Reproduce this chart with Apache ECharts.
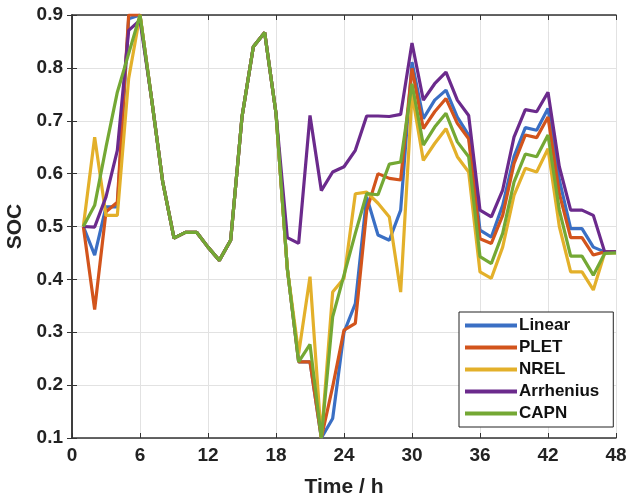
<!DOCTYPE html>
<html>
<head>
<meta charset="utf-8">
<script src="https://cdn.jsdelivr.net/npm/echarts@6/dist/echarts.min.js"></script>
<style>
  html, body { margin: 0; padding: 0; background: #fff; }
  #chart { width: 628px; height: 501px; }
</style>
</head>
<body>
<div id="chart"></div>
<script>
// hours 1..48
const hours = Array.from({ length: 48 }, (_, i) => i + 1)
const seriesNames = ['Linear', 'PLET', 'NREL', 'Arrhenius', 'CAPN']
const colors = ['#3a6fc4', '#d2541c', '#e3b02a', '#6b2a8c', '#74a834']

// shared part h7..h18
const common = [0.745, 0.585, 0.478, 0.489, 0.489, 0.461, 0.436, 0.474, 0.707, 0.84, 0.867, 0.714]

const linear = [0.5, 0.446, 0.537, 0.537, 0.893, 0.9, ...common,
  0.42, 0.244, 0.244, 0.1, 0.137, 0.30, 0.354, 0.556, 0.484, 0.474, 0.531, 0.811,
  0.704, 0.739, 0.758, 0.707, 0.673, 0.493, 0.48, 0.54, 0.632, 0.687, 0.682, 0.723,
  0.588, 0.496, 0.496, 0.461, 0.452, 0.452]
const plet = [0.5, 0.343, 0.528, 0.546, 0.9, 0.9, ...common,
  0.42, 0.244, 0.244, 0.1, 0.197, 0.304, 0.317, 0.53, 0.6, 0.591, 0.588, 0.799,
  0.685, 0.717, 0.742, 0.695, 0.666, 0.477, 0.468, 0.521, 0.619, 0.673, 0.668, 0.707,
  0.562, 0.479, 0.479, 0.446, 0.452, 0.452]
const nrel = [0.5, 0.669, 0.521, 0.521, 0.78, 0.9, ...common,
  0.42, 0.26, 0.405, 0.1, 0.376, 0.402, 0.562, 0.565, 0.544, 0.518, 0.376, 0.751,
  0.625, 0.657, 0.685, 0.632, 0.603, 0.414, 0.402, 0.461, 0.559, 0.61, 0.603, 0.647,
  0.5, 0.414, 0.414, 0.38, 0.45, 0.45]
const arrhenius = [0.5, 0.499, 0.556, 0.644, 0.871, 0.89, ...common,
  0.479, 0.468, 0.71, 0.568, 0.603, 0.613, 0.644, 0.709, 0.709, 0.708, 0.712, 0.847,
  0.739, 0.77, 0.792, 0.739, 0.71, 0.531, 0.518, 0.569, 0.669, 0.721, 0.717, 0.754,
  0.613, 0.531, 0.531, 0.521, 0.452, 0.452]
const capn = [0.5, 0.54, 0.65, 0.754, 0.827, 0.9, ...common,
  0.42, 0.244, 0.277, 0.1, 0.329, 0.408, 0.487, 0.562, 0.56, 0.618, 0.622, 0.77,
  0.654, 0.688, 0.714, 0.66, 0.632, 0.443, 0.43, 0.487, 0.584, 0.637, 0.632, 0.673,
  0.531, 0.444, 0.444, 0.408, 0.449, 0.45]

const allValues = [linear, plet, nrel, arrhenius, capn]

const fontFamily = 'Arial, "Liberation Sans", sans-serif'
const axisColor = '#333'

const chart = echarts.init(document.getElementById('chart'))

const option = {
  animation: false,
  grid: { left: 72, right: 12, top: 15, bottom: 63, containLabel: false, outerBoundsMode: 'none' },
  legend: {
    orient: 'vertical',
    left: 459,
    top: 312,
    icon: 'rect',
    itemWidth: 52,
    itemHeight: 4,
    itemGap: 5,
    padding: [5, 14, 5, 6],
    borderColor: '#222',
    borderWidth: 1,
    backgroundColor: '#fff',
    textStyle: {
      fontFamily, fontWeight: 'bold', fontSize: 17, lineHeight: 17, color: '#111',
      padding: [0, 0, 0, -3]
    },
    data: seriesNames
  },
  xAxis: [
    {
      type: 'value',
      min: 0,
      max: 48,
      interval: 6,
      name: 'Time / h',
      nameLocation: 'middle',
      nameGap: 39,
      nameTextStyle: { fontFamily, fontWeight: 'bold', fontSize: 21, color: '#222' },
      axisLine: { show: true, onZero: false, lineStyle: { color: axisColor, width: 1.5 } },
      axisTick: { show: true, inside: true, length: 5, lineStyle: { color: axisColor } },
      axisLabel: { fontFamily, fontWeight: 'bold', fontSize: 19, color: '#222', margin: 8 },
      splitLine: { show: true, lineStyle: { color: '#e2e2e2', width: 1 } }
    },
    {
      type: 'value',
      position: 'top',
      min: 0,
      max: 48,
      interval: 6,
      axisLine: { show: true, lineStyle: { color: axisColor, width: 1.5 } },
      axisTick: { show: true, inside: true, length: 5, lineStyle: { color: axisColor } },
      axisLabel: { show: false },
      splitLine: { show: false }
    }
  ],
  yAxis: [
    {
      type: 'value',
      min: 0.1,
      max: 0.9,
      interval: 0.1,
      name: 'SOC',
      nameLocation: 'middle',
      nameGap: 46,
      nameTextStyle: { fontFamily, fontWeight: 'bold', fontSize: 21, color: '#222' },
      axisLine: { show: true, onZero: false, lineStyle: { color: axisColor, width: 1.5 } },
      axisTick: { show: true, inside: true, length: 5, lineStyle: { color: axisColor } },
      axisLabel: {
        fontFamily, fontWeight: 'bold', fontSize: 19, color: '#222', margin: 9,
        formatter: (v) => v.toFixed(1)
      },
      splitLine: { show: true, lineStyle: { color: '#e2e2e2', width: 1 } }
    },
    {
      type: 'value',
      position: 'right',
      min: 0.1,
      max: 0.9,
      interval: 0.1,
      axisLine: { show: true, lineStyle: { color: axisColor, width: 1.5 } },
      axisTick: { show: true, inside: true, length: 5, lineStyle: { color: axisColor } },
      axisLabel: { show: false },
      splitLine: { show: false }
    }
  ],
  series: seriesNames.map((name, i) => ({
    name,
    type: 'line',
    xAxisIndex: 0,
    yAxisIndex: 0,
    showSymbol: false,
    symbol: 'none',
    clip: true,
    color: colors[i],
    lineStyle: { width: 3.2, color: colors[i] },
    data: hours.map((h, j) => [h, allValues[i][j]])
  }))
}

chart.setOption(option)
</script>
</body>
</html>
